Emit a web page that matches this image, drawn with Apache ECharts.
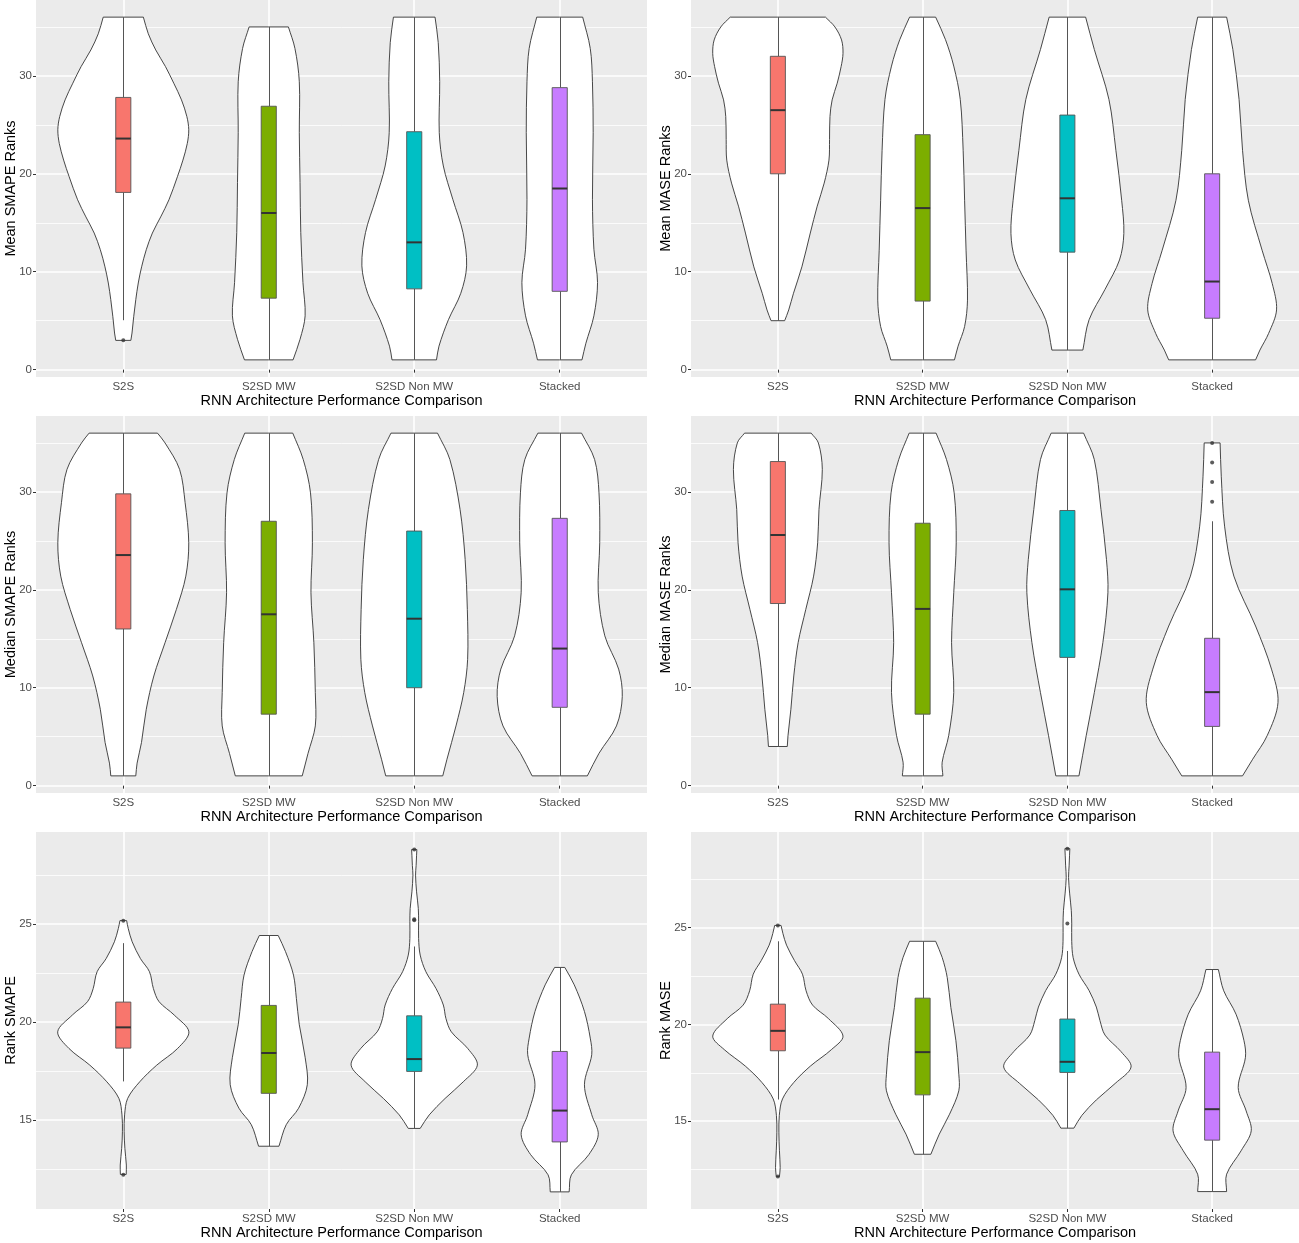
<!DOCTYPE html>
<html>
<head>
<meta charset="utf-8">
<script src="https://cdn.jsdelivr.net/npm/echarts@6/dist/echarts.min.js"></script>
<style>
html,body{margin:0;padding:0;background:#fff;}
#chart{width:1299px;height:1243px;}
</style>
</head>
<body>
<div id="chart"></div>
<script>
// ---------------- DATA ----------------
const categories = ['S2S', 'S2SD MW', 'S2SD Non MW', 'Stacked'];
const xTitle = 'RNN Architecture Performance Comparison';

const rankTicks = [0, 10, 20, 30];
const rankMinorTicks = [5, 15, 25, 35];
const scoreTicks = [15, 20, 25];
const scoreMinorTicks = [12.5, 17.5, 22.5, 27.5];

// boxplot stats per category: [lower whisker, Q1, median, Q3, upper whisker]
const meanSmapeBox = [[5.05, 18.1, 23.6, 27.8, 36], [1, 7.3, 16.0, 26.9, 35], [1, 8.25, 13.0, 24.3, 36], [1, 8.0, 18.5, 28.8, 36]];
const meanMaseBox = [[5, 20, 26.5, 32, 36], [1, 7, 16.5, 24, 36], [2, 12, 17.5, 26, 36], [1, 5.25, 9, 20, 36]];
const medianSmapeBox = [[1, 16, 23.55, 29.8, 36], [1, 7.3, 17.5, 27, 36], [1, 10, 17.05, 26, 36], [1, 8, 14, 27.3, 36]];
const medianMaseBox = [[4, 18.6, 25.6, 33.1, 36], [1, 7.3, 18.05, 26.8, 36], [1, 13.1, 20.05, 28.1, 36], [1, 6.05, 9.55, 15.05, 27]];
const rankSmapeBox = [[16.97, 18.67, 19.73, 21.02, 24.03], [13.66, 16.36, 18.42, 20.85, 24.42], [14.56, 17.48, 18.11, 20.32, 23.86], [11.33, 13.88, 15.48, 18.5, 22.79]];
const rankMaseBox = [[16.12, 18.64, 19.67, 21.05, 24.3], [13.29, 16.36, 18.57, 21.36, 24.3], [14.64, 17.52, 18.07, 20.28, 23.8], [11.36, 14.02, 15.62, 18.57, 22.84]];

// outliers: [category, value]
const meanSmapeOutliers = [['S2S', 3]];
const meanMaseOutliers = [];
const medianSmapeOutliers = [];
const medianMaseOutliers = [['Stacked', 29], ['Stacked', 31], ['Stacked', 33], ['Stacked', 35]];
const rankSmapeOutliers = [['S2S', 25.17], ['S2S', 12.2], ['S2SD Non MW', 28.81], ['S2SD Non MW', 25.2], ['S2SD Non MW', 25.25]];
const rankMaseOutliers = [['S2S', 25.12], ['S2S', 12.14], ['S2SD Non MW', 29.09], ['S2SD Non MW', 25.22]];

// violin density profiles per category: [value, half width (category units)]
const meanSmapeViolin = [
  [[2.99,0.052],[3.74,0.06],[5.45,0.072],[7.15,0.086],[8.85,0.103],[10.5,0.126],[12.25,0.158],[13.95,0.2],[15.6,0.257],[17.35,0.314],[19.7,0.372],[21.4,0.41],[23.1,0.44],[24.5,0.45],[25.85,0.437],[27.55,0.4],[29.25,0.347],[30.95,0.29],[32.65,0.223],[34.3,0.172],[36,0.138]],
  [[1,0.167],[3.1,0.215],[5.5,0.25],[8.9,0.235],[14,0.22],[19.1,0.215],[24.2,0.21],[29.4,0.21],[32.8,0.18],[35,0.135]],
  [[1,0.153],[2.4,0.17],[5.1,0.235],[7.8,0.32],[10.6,0.36],[14,0.335],[17.4,0.265],[20.8,0.2],[24.2,0.172],[29.4,0.175],[33.4,0.165],[36,0.143]],
  [[1,0.153],[2.7,0.18],[5.5,0.235],[8.9,0.26],[12.3,0.235],[17.4,0.225],[24.2,0.23],[29.4,0.225],[32.8,0.21],[36,0.158]]
];
const meanMaseViolin = [
  [[5,0.047],[6.1,0.075],[7.8,0.108],[10.5,0.166],[13.95,0.224],[16.7,0.272],[19.05,0.32],[21.4,0.353],[23.5,0.357],[25.85,0.36],[27.55,0.375],[29.25,0.41],[30.95,0.437],[32.3,0.45],[33.67,0.44],[35,0.394],[36,0.329]],
  [[1,0.22],[2.4,0.245],[4.4,0.29],[7.1,0.31],[12.2,0.3],[17.3,0.29],[22.4,0.28],[27.6,0.26],[31,0.215],[33.7,0.158],[36,0.09]],
  [[2,0.107],[5.1,0.15],[8.2,0.26],[11.2,0.36],[13.9,0.39],[17.3,0.375],[22.4,0.335],[27.6,0.287],[32.7,0.186],[36,0.126]],
  [[1,0.3],[2,0.33],[3.7,0.39],[6.1,0.445],[8.8,0.415],[12.2,0.345],[17.3,0.25],[22.4,0.21],[27.6,0.186],[32.7,0.143],[36,0.1]]
];
const medianSmapeViolin = [
  [[1,0.086],[2.3,0.095],[4.4,0.125],[7.8,0.158],[11.2,0.21],[14.6,0.287],[18,0.365],[21.4,0.43],[24.8,0.45],[28.9,0.425],[32.3,0.387],[35,0.287],[36,0.235]],
  [[1,0.23],[3.3,0.27],[6.1,0.32],[9.5,0.32],[14.6,0.31],[19.7,0.29],[24.8,0.3],[29.9,0.287],[33.3,0.237],[36,0.165]],
  [[1,0.196],[2.7,0.225],[6.1,0.287],[9.5,0.34],[12.9,0.367],[18,0.365],[23.1,0.35],[28.2,0.315],[33.3,0.245],[36,0.16]],
  [[1,0.19],[3.3,0.27],[6.1,0.39],[9.1,0.43],[11.9,0.405],[15.3,0.31],[19.7,0.265],[24.8,0.275],[29.9,0.27],[33.3,0.24],[36,0.15]]
];
const medianMaseViolin = [
  [[4,0.065],[5.1,0.07],[7.8,0.09],[11.2,0.11],[14.6,0.14],[18,0.193],[21.4,0.247],[24.8,0.275],[28.2,0.284],[32.3,0.307],[35,0.28],[36,0.23]],
  [[1,0.14],[2.4,0.135],[5.1,0.18],[9.5,0.215],[14.6,0.2],[19.7,0.215],[24.8,0.232],[29.9,0.218],[33.3,0.165],[36,0.093]],
  [[1,0.08],[5.1,0.13],[9.5,0.186],[14.6,0.245],[19.7,0.28],[23.1,0.27],[28.2,0.232],[33.3,0.186],[36,0.112]],
  [[1,0.21],[2.7,0.28],[5.1,0.38],[8.5,0.455],[11.9,0.41],[16.3,0.3],[21.4,0.15],[26.5,0.086],[31.6,0.063],[35,0.055]]
];
const rankSmapeViolin = [
  [[12.22,0.02],[12.7,0.021],[13.55,0.011],[14.4,0.006],[15.26,0.009],[16.1,0.03],[16.95,0.113],[17.8,0.23],[18.65,0.373],[19.5,0.451],[20.36,0.35],[21.04,0.246],[21.71,0.207],[22.57,0.18],[23.24,0.118],[24.1,0.061],[24.78,0.034],[25.18,0.023]],
  [[13.66,0.07],[14.76,0.12],[15.6,0.205],[16.8,0.265],[18.2,0.25],[19.86,0.21],[21.2,0.19],[22.4,0.17],[23.6,0.115],[24.42,0.065]],
  [[14.57,0.041],[15.26,0.103],[16.1,0.212],[16.95,0.337],[17.8,0.434],[18.65,0.368],[19.5,0.255],[20.18,0.218],[20.87,0.2],[21.71,0.15],[22.57,0.08],[23.42,0.041],[24.27,0.03],[25.12,0.03],[25.8,0.028],[26.65,0.016],[27.5,0.009],[28.0,0.013],[28.52,0.016],[28.81,0.018]],
  [[11.33,0.065],[12.2,0.08],[13.23,0.2],[14.25,0.265],[15.27,0.22],[16.8,0.17],[18.33,0.22],[19.18,0.21],[20.54,0.17],[21.9,0.1],[22.79,0.035]]
];
const rankMaseViolin = [
  [[12.14,0.011],[12.6,0.016],[13.47,0.011],[14.4,0.007],[15.3,0.01],[16.15,0.032],[17.0,0.11],[17.85,0.225],[18.7,0.37],[19.4,0.45],[20.3,0.35],[21.0,0.24],[21.74,0.195],[22.6,0.17],[23.3,0.115],[24.1,0.06],[24.7,0.035],[25.12,0.022]],
  [[13.29,0.057],[14.33,0.115],[15.36,0.186],[16.57,0.25],[17.43,0.25],[19.16,0.23],[20.88,0.195],[22.43,0.17],[23.47,0.135],[24.3,0.09]],
  [[14.64,0.045],[15.3,0.1],[16.1,0.2],[16.95,0.33],[17.8,0.44],[18.6,0.37],[19.45,0.26],[20.2,0.225],[20.9,0.2],[21.75,0.15],[22.6,0.08],[23.45,0.04],[24.3,0.03],[25.2,0.03],[25.9,0.027],[26.75,0.016],[27.6,0.008],[28.2,0.012],[28.75,0.015],[29.09,0.017]],
  [[11.36,0.1],[12.26,0.1],[13.47,0.2],[14.5,0.27],[15.53,0.235],[16.74,0.18],[18.3,0.23],[19.16,0.22],[20.53,0.165],[21.74,0.08],[22.84,0.043]]
];

// ---------------- PANELS / LAYOUT ----------------
const panels = [
  {yName: 'Mean SMAPE Ranks', box: meanSmapeBox, violin: meanSmapeViolin, outliers: meanSmapeOutliers, ticks: rankTicks, minor: rankMinorTicks, range: [-0.75, 37.75]},
  {yName: 'Mean MASE Ranks', box: meanMaseBox, violin: meanMaseViolin, outliers: meanMaseOutliers, ticks: rankTicks, minor: rankMinorTicks, range: [-0.75, 37.75]},
  {yName: 'Median SMAPE Ranks', box: medianSmapeBox, violin: medianSmapeViolin, outliers: medianSmapeOutliers, ticks: rankTicks, minor: rankMinorTicks, range: [-0.75, 37.75]},
  {yName: 'Median MASE Ranks', box: medianMaseBox, violin: medianMaseViolin, outliers: medianMaseOutliers, ticks: rankTicks, minor: rankMinorTicks, range: [-0.75, 37.75]},
  {yName: 'Rank SMAPE', box: rankSmapeBox, violin: rankSmapeViolin, outliers: rankSmapeOutliers, ticks: scoreTicks, minor: scoreMinorTicks, range: [10.455, 29.705]},
  {yName: 'Rank MASE', box: rankMaseBox, violin: rankMaseViolin, outliers: rankMaseOutliers, ticks: scoreTicks, minor: scoreMinorTicks, range: [10.46, 29.95]}
];
const gridRects = [
  [36, 0, 611, 377], [691, 0, 608, 377],
  [36, 416, 611, 377], [691, 416, 608, 377],
  [36, 832, 611, 377], [691, 832, 608, 377]
];
const fillColors = ['#F8766D', '#7CAE00', '#00BFC4', '#C77CFF'];
const FONT = '"Liberation Sans", Arial, Helvetica, sans-serif';

function violinRenderer(profiles) {
  return function (params, api) {
    const x = api.value(0);
    const prof = profiles[params.dataIndex];
    const right = prof.map(p => api.coord([x + p[1], p[0]]));
    const left = prof.map(p => api.coord([x - p[1], p[0]])).reverse();
    const pts = [];
    right.forEach((pt, i) => { pts.push(pt); if (i === 0 || i === right.length - 1) pts.push(pt); });
    left.forEach((pt, i) => { pts.push(pt); if (i === 0 || i === left.length - 1) pts.push(pt); });
    return {
      type: 'polygon',
      shape: {points: pts, smooth: 0.33},
      style: {fill: '#ffffff', stroke: '#333333', lineWidth: 0.9}
    };
  };
}

function boxRenderer(params, api) {
  const x = api.value(0);
  const lo = api.value(1), q1 = api.value(2), md = api.value(3), q3 = api.value(4), hi = api.value(5);
  const hw = 0.052;
  const top = api.coord([x, hi]);
  const bot = api.coord([x, lo]);
  const tl = api.coord([x - hw, q3]);
  const br = api.coord([x + hw, q1]);
  const m1 = api.coord([x - hw, md]);
  const m2 = api.coord([x + hw, md]);
  const cx = Math.round(top[0]) + 0.5;
  return {
    type: 'group',
    children: [
      {type: 'line', shape: {x1: cx, y1: top[1], x2: cx, y2: tl[1]}, style: {stroke: '#555555', lineWidth: 1}},
      {type: 'line', shape: {x1: cx, y1: br[1], x2: cx, y2: bot[1]}, style: {stroke: '#555555', lineWidth: 1}},
      {type: 'rect', shape: {x: tl[0], y: tl[1], width: br[0] - tl[0], height: br[1] - tl[1]},
        style: {fill: fillColors[params.dataIndex], stroke: '#555555', lineWidth: 0.9}},
      {type: 'line', shape: {x1: m1[0], y1: m1[1], x2: m2[0], y2: m2[1]}, style: {stroke: '#333333', lineWidth: 2}}
    ]
  };
}

const grid = [], xAxis = [], yAxis = [], series = [];
panels.forEach((p, i) => {
  const r = gridRects[i];
  grid.push({left: r[0], top: r[1], width: r[2], height: r[3], show: true, backgroundColor: '#EBEBEB', borderWidth: 0, containLabel: false, outerBoundsMode: 'none'});
  xAxis.push({
    gridIndex: i, type: 'value', min: 0.4, max: 4.6,
    axisLine: {show: false},
    axisTick: {show: true, length: 3, customValues: [1, 2, 3, 4], lineStyle: {color: '#333333', width: 1}},
    axisLabel: {customValues: [1, 2, 3, 4], formatter: v => categories[Math.round(v) - 1], color: '#4D4D4D', fontSize: 11.5, margin: 4, fontFamily: FONT},
    splitLine: {show: true, lineStyle: {color: '#FFFFFF', width: 1.6}},
    name: xTitle, nameLocation: 'middle', nameGap: 16, nameMoveOverlap: false,
    nameTextStyle: {color: '#000000', fontSize: 14.5, fontFamily: FONT}
  });
  yAxis.push({
    gridIndex: i, type: 'value', min: p.range[0], max: p.range[1], position: 'left',
    axisLine: {show: false},
    axisTick: {show: true, length: 3, customValues: p.ticks, lineStyle: {color: '#333333', width: 1}},
    axisLabel: {customValues: p.ticks, color: '#4D4D4D', fontSize: 11.5, margin: 4, fontFamily: FONT},
    splitLine: {show: true, lineStyle: {color: '#FFFFFF', width: 1.6}},
    name: p.yName, nameLocation: 'middle', nameGap: 18, nameMoveOverlap: false,
    nameTextStyle: {color: '#000000', fontSize: 14.5, fontFamily: FONT}
  });
  yAxis.push({
    gridIndex: i, type: 'value', min: p.range[0], max: p.range[1], position: 'left',
    axisLine: {show: false},
    axisTick: {show: false, customValues: p.minor},
    axisLabel: {show: false, customValues: p.minor},
    splitLine: {show: true, lineStyle: {color: '#FFFFFF', width: 0.8}}
  });
  series.push({
    type: 'custom', xAxisIndex: i, yAxisIndex: 2 * i, z: 2,
    renderItem: violinRenderer(p.violin),
    data: categories.map((c, k) => [k + 1, p.violin[k][0][0], p.violin[k][p.violin[k].length - 1][0]]),
    encode: {x: 0, y: [1, 2]}, silent: true
  });
  series.push({
    type: 'custom', xAxisIndex: i, yAxisIndex: 2 * i, z: 3,
    renderItem: boxRenderer,
    data: p.box.map((b, k) => [k + 1].concat(b)),
    encode: {x: 0, y: [1, 2, 3, 4, 5]}, silent: true
  });
  series.push({
    type: 'scatter', xAxisIndex: i, yAxisIndex: 2 * i, z: 4,
    symbol: 'circle', symbolSize: 4,
    itemStyle: {color: '#333333'},
    data: p.outliers.map(o => [categories.indexOf(o[0]) + 1, o[1]]), silent: true
  });
});

const chart = echarts.init(document.getElementById('chart'), null, {renderer: 'canvas'});
chart.setOption({
  animation: false,
  backgroundColor: '#FFFFFF',
  textStyle: {fontFamily: FONT},
  grid, xAxis, yAxis, series
});
</script>
</body>
</html>
